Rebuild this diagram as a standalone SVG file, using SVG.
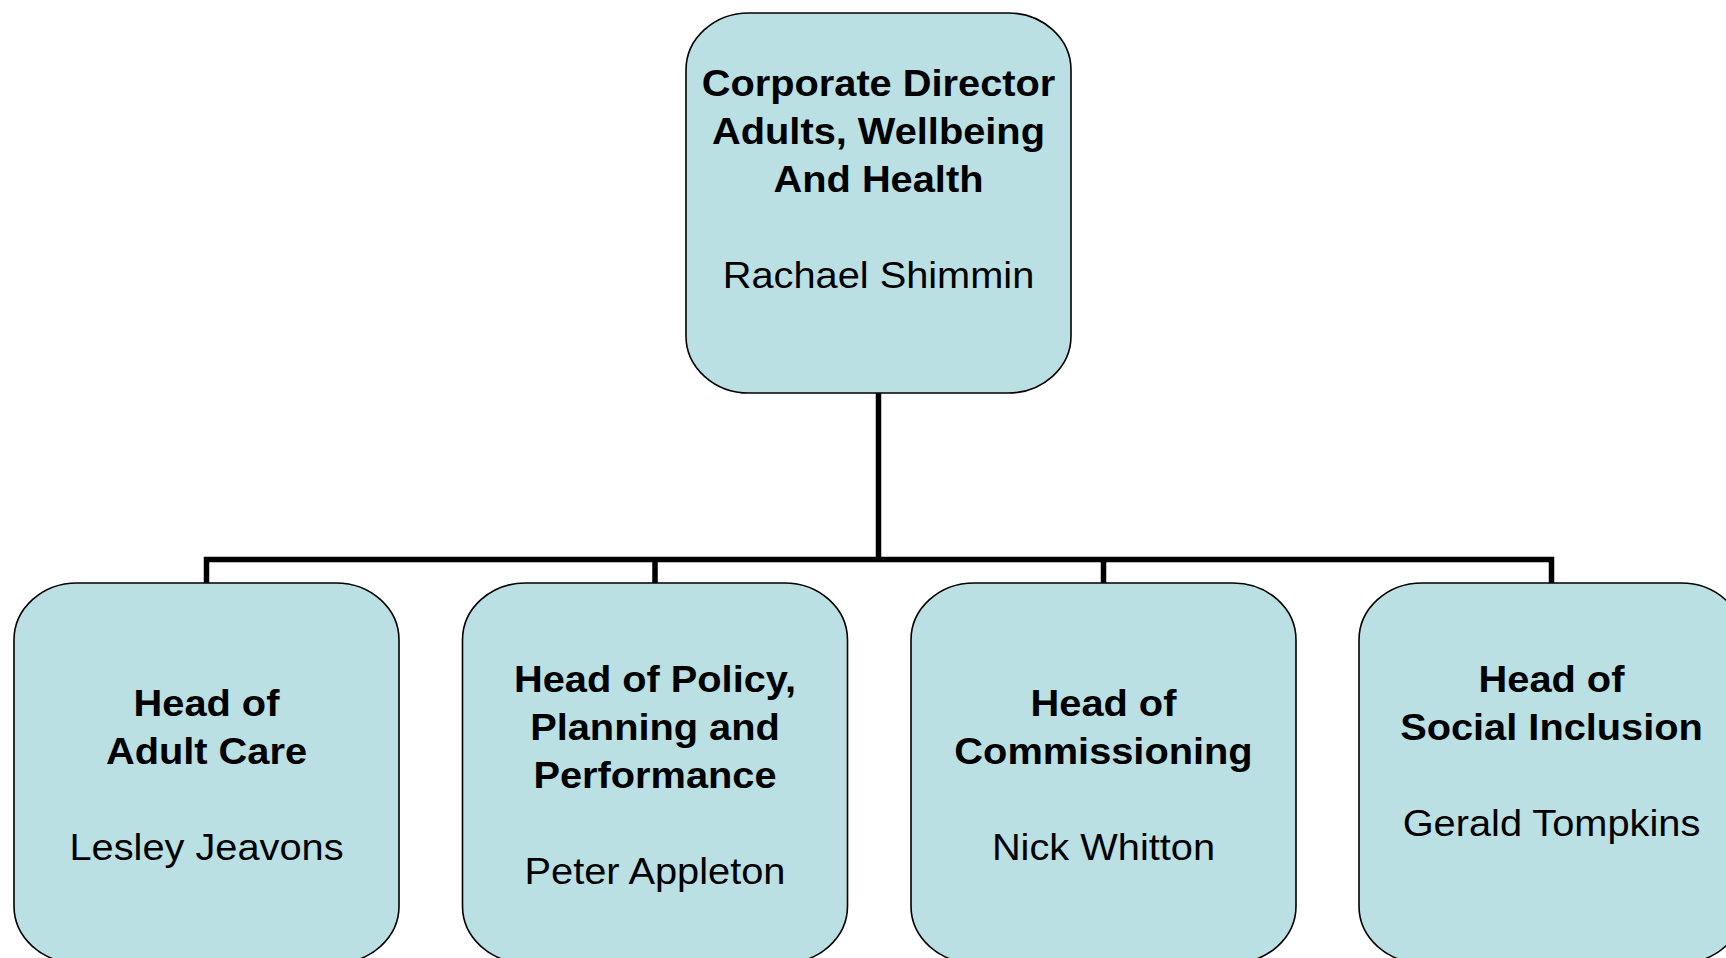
<svg xmlns="http://www.w3.org/2000/svg" width="1726" height="958" viewBox="0 0 1726 958">
<style>
.box{fill:#BAE0E3;stroke:#000;stroke-width:1.6}
.conn{fill:none;stroke:#000;stroke-width:5.5;stroke-linejoin:miter;stroke-linecap:butt}
text{font-family:"Liberation Sans",Arial,sans-serif;font-size:36px;fill:#000;text-anchor:middle}
.b{font-weight:bold}
</style>
<rect width="1726" height="958" fill="#fff"/>
<g id="connectors">
<path class="conn" d="M878.5 393 V559.5"/>
<path class="conn" d="M206.5 584 V559.5 H1551.5 V584"/>
<path class="conn" d="M655 559.5 V584"/>
<path class="conn" d="M1103.5 559.5 V584"/>
</g>
<g id="director">
<rect class="box" x="686" y="13" width="385" height="380" rx="63" ry="57"/>
<g transform="translate(878.5,0) scale(1.105,1)">
<text class="b" x="0" y="96">Corporate Director</text>
<text class="b" x="0" y="144">Adults, Wellbeing</text>
<text class="b" x="0" y="192">And Health</text>
<text x="0" y="288">Rachael Shimmin</text>
</g>
</g>
<g id="adult-care">
<rect class="box" x="14" y="583" width="385" height="380" rx="63" ry="57"/>
<g transform="translate(206.5,0) scale(1.105,1)">
<text class="b" x="0" y="716">Head of</text>
<text class="b" x="0" y="764">Adult Care</text>
<text x="0" y="860">Lesley Jeavons</text>
</g>
</g>
<g id="policy">
<rect class="box" x="462.5" y="583" width="385" height="380" rx="63" ry="57"/>
<g transform="translate(655,0) scale(1.105,1)">
<text class="b" x="0" y="692">Head of Policy,</text>
<text class="b" x="0" y="740">Planning and</text>
<text class="b" x="0" y="788">Performance</text>
<text x="0" y="884">Peter Appleton</text>
</g>
</g>
<g id="commissioning">
<rect class="box" x="911" y="583" width="385" height="380" rx="63" ry="57"/>
<g transform="translate(1103.5,0) scale(1.105,1)">
<text class="b" x="0" y="716">Head of</text>
<text class="b" x="0" y="764">Commissioning</text>
<text x="0" y="860">Nick Whitton</text>
</g>
</g>
<g id="social-inclusion">
<rect class="box" x="1359" y="583" width="385" height="380" rx="63" ry="57"/>
<g transform="translate(1551.5,0) scale(1.105,1)">
<text class="b" x="0" y="692">Head of</text>
<text class="b" x="0" y="740">Social Inclusion</text>
<text x="0" y="836">Gerald Tompkins</text>
</g>
</g>
</svg>
